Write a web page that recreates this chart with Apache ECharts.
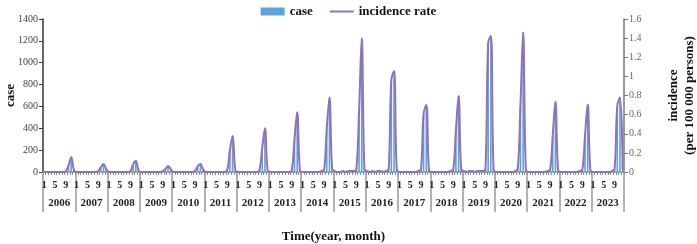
<!DOCTYPE html>
<html lang="en">
<head>
    <meta charset="UTF-8">
    <title>case and incidence rate</title>
    <script src="https://cdn.jsdelivr.net/npm/echarts@6.0.0/dist/echarts.min.js"></script>
    <style>
        body, html { margin: 0; padding: 0; background: #fff; }
        #main { width: 697px; height: 244px; }
    </style>
</head>
<body>
    <div id="main"></div>
    <script>
        // years on the lower axis row
        const years = ['2006', '2007', '2008', '2009', '2010', '2011', '2012', '2013', '2014',
                       '2015', '2016', '2017', '2018', '2019', '2020', '2021', '2022', '2023'];
        // month labels shown under the axis
        const monthTicks = ['1', '5', '9'];

        // monthly cases, one row per year (Jan..Dec)
        const cases = [
            2, 1, 1, 2, 1, 2, 1, 2, 8, 60, 134, 20,
            1, 1, 2, 1, 1, 2, 2, 1, 6, 40, 73, 30,
            2, 1, 1, 1, 2, 1, 2, 2, 8, 70, 103, 20,
            1, 2, 1, 1, 1, 1, 2, 1, 5, 30, 55, 25,
            1, 1, 2, 1, 2, 1, 1, 2, 6, 50, 73, 25,
            2, 1, 2, 2, 1, 2, 2, 3, 15, 200, 329, 15,
            3, 2, 2, 3, 2, 2, 3, 3, 15, 220, 400, 15,
            3, 2, 3, 2, 3, 3, 2, 4, 18, 300, 546, 20,
            4, 3, 3, 4, 3, 4, 3, 5, 20, 400, 680, 25,
            5, 4, 4, 5, 4, 5, 5, 6, 25, 550, 1223, 30,
            5, 4, 5, 4, 5, 5, 4, 6, 30, 840, 924, 30,
            4, 3, 4, 3, 4, 4, 3, 5, 20, 530, 613, 20,
            4, 4, 3, 4, 4, 3, 4, 5, 20, 380, 695, 20,
            5, 4, 5, 5, 4, 5, 5, 6, 30, 1180, 1244, 30,
            4, 3, 3, 4, 3, 4, 4, 6, 25, 600, 1278, 25,
            4, 3, 4, 3, 3, 4, 3, 5, 20, 330, 643, 20,
            3, 3, 4, 3, 3, 3, 4, 5, 18, 330, 619, 15,
            4, 3, 3, 4, 3, 4, 4, 6, 22, 600, 683, 20
        ];

        // monthly incidence rate (per 100 000 persons)
        const incidence = [
            0, 0, 0, 0, 0, 0, 0, 0, 0.01, 0.07, 0.153, 0.02,
            0, 0, 0, 0, 0, 0, 0, 0, 0.01, 0.05, 0.083, 0.03,
            0, 0, 0, 0, 0, 0, 0, 0, 0.01, 0.08, 0.118, 0.02,
            0, 0, 0, 0, 0, 0, 0, 0, 0.01, 0.03, 0.063, 0.03,
            0, 0, 0, 0, 0, 0, 0, 0, 0.01, 0.06, 0.083, 0.03,
            0, 0, 0, 0, 0, 0, 0, 0, 0.02, 0.23, 0.376, 0.02,
            0, 0, 0, 0, 0, 0, 0, 0, 0.02, 0.25, 0.457, 0.02,
            0, 0, 0, 0, 0, 0, 0, 0, 0.02, 0.34, 0.624, 0.02,
            0, 0, 0, 0, 0, 0, 0, 0.01, 0.02, 0.46, 0.777, 0.03,
            0.01, 0, 0, 0.01, 0, 0.01, 0.01, 0.01, 0.03, 0.63, 1.398, 0.03,
            0.01, 0, 0.01, 0, 0.01, 0.01, 0, 0.01, 0.03, 0.96, 1.056, 0.03,
            0, 0, 0, 0, 0, 0, 0, 0.01, 0.02, 0.61, 0.70, 0.02,
            0, 0, 0, 0, 0, 0, 0, 0.01, 0.02, 0.43, 0.794, 0.02,
            0.01, 0, 0.01, 0.01, 0, 0.01, 0.01, 0.01, 0.03, 1.35, 1.422, 0.03,
            0, 0, 0, 0, 0, 0, 0, 0.01, 0.03, 0.69, 1.46, 0.03,
            0, 0, 0, 0, 0, 0, 0, 0.01, 0.02, 0.38, 0.735, 0.02,
            0, 0, 0, 0, 0, 0, 0, 0.01, 0.02, 0.38, 0.707, 0.02,
            0, 0, 0, 0, 0, 0, 0, 0.01, 0.03, 0.69, 0.78, 0.02
        ];

        const months = [];
        years.forEach(function () {
            for (let m = 1; m <= 12; m++) months.push(String(m));
        });

        const serif = 'Liberation Serif';
        const chart = echarts.init(document.getElementById('main'));

        chart.setOption({
            animation: false,
            backgroundColor: '#fff',
            textStyle: { fontFamily: serif },
            legend: {
                top: 0,
                left: 'center',
                itemWidth: 24,
                itemHeight: 8,
                itemGap: 16,
                textStyle: { fontFamily: serif, fontWeight: 'bold', fontSize: 13, color: '#111' },
                data: [
                    { name: 'case', icon: 'rect' },
                    { name: 'incidence rate', itemStyle: { opacity: 0 } }
                ]
            },
            grid: { left: 43, right: 73, top: 19, bottom: 72, containLabel: false, outerBoundsMode: 'none' },
            xAxis: [{
                type: 'category',
                data: months,
                boundaryGap: true,
                axisLine: { lineStyle: { color: '#8a8a8a', width: 1.5 } },
                axisTick: { show: true, interval: 0, length: 3, lineStyle: { color: '#8a8a8a' } },
                axisLabel: {
                    interval: function (i, v) { return monthTicks.indexOf(v) >= 0; },
                    margin: 8,
                    fontFamily: serif,
                    fontWeight: 'bold',
                    fontSize: 10,
                    color: '#222'
                }
            }, {
                type: 'category',
                data: years,
                position: 'bottom',
                boundaryGap: true,
                axisLine: { show: false },
                axisTick: { show: true, interval: 0, length: 40, lineStyle: { color: '#999', width: 1.5 } },
                axisLabel: {
                    interval: 0,
                    margin: 26,
                    fontFamily: serif,
                    fontWeight: 'bold',
                    fontSize: 11,
                    color: '#222'
                },
                name: 'Time(year, month)',
                nameLocation: 'middle',
                nameGap: 58,
                nameTextStyle: { fontFamily: serif, fontWeight: 'bold', fontSize: 13, color: '#111' }
            }],
            yAxis: [{
                type: 'value',
                min: 0,
                max: 1400,
                interval: 200,
                name: 'case',
                nameLocation: 'middle',
                nameGap: 26,
                nameMoveOverlap: false,
                nameTextStyle: { fontFamily: serif, fontWeight: 'bold', fontSize: 13, color: '#111' },
                axisLine: { show: true, lineStyle: { color: '#333', width: 1.5 } },
                axisTick: { show: true, length: 4, lineStyle: { color: '#333' } },
                axisLabel: { fontFamily: serif, fontSize: 10, color: '#444', margin: 5, formatter: function (v) { return String(v); } },
                splitLine: { show: false }
            }, {
                type: 'value',
                min: 0,
                max: 1.6,
                interval: 0.2,
                name: 'incidence\n(per 100 000 persons)',
                nameLocation: 'middle',
                nameGap: 42,
                nameTextStyle: { fontFamily: serif, fontWeight: 'bold', fontSize: 13, color: '#111', lineHeight: 16 },
                axisLine: { show: true, lineStyle: { color: '#777', width: 1.5 } },
                axisTick: { show: true, length: 4, lineStyle: { color: '#777' } },
                axisLabel: { fontFamily: serif, fontSize: 10, color: '#666', margin: 5, formatter: function (v) { return String(+v.toFixed(1)); } },
                splitLine: { show: false }
            }],
            series: [{
                name: 'case',
                type: 'bar',
                xAxisIndex: 0,
                yAxisIndex: 0,
                barWidth: 1.6,
                itemStyle: { color: '#5ba3dc' },
                data: cases
            }, {
                name: 'incidence rate',
                type: 'line',
                xAxisIndex: 0,
                yAxisIndex: 1,
                smooth: 0.4,
                symbol: 'none',
                lineStyle: { color: '#8f72b8', width: 2 },
                itemStyle: { color: '#8f72b8' },
                data: incidence
            }]
        });
    </script>
</body>
</html>
